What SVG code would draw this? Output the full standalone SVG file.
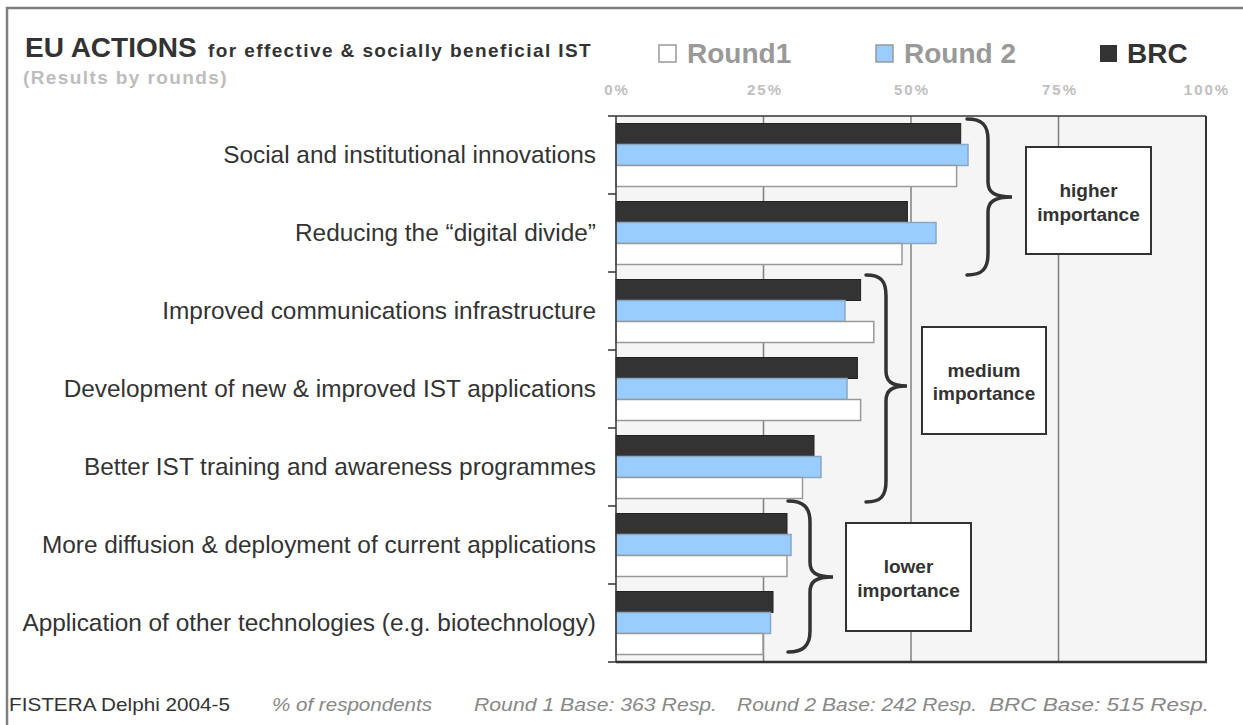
<svg xmlns="http://www.w3.org/2000/svg" width="1243" height="725" viewBox="0 0 1243 725">
<style>
text{font-family:"Liberation Sans",Arial,sans-serif}
.cat{font-size:24.4px;fill:#333;text-anchor:end}
.ax{font-size:15px;font-weight:bold;fill:#c0c0c0;text-anchor:middle;letter-spacing:2px}
.leg{font-size:28px;font-weight:bold;fill:#999}
.bk{fill:#333;stroke:#222;stroke-width:1}
.bl{fill:#99ccff;stroke:#8aa7c4;stroke-width:1.5}
.wh{fill:#fff;stroke:#999;stroke-width:1.5}
.grid{stroke:#808080;stroke-width:1.5}
.brace{fill:none;stroke:#333;stroke-width:3.5;stroke-linecap:round}
.box{fill:#fff;stroke:#333;stroke-width:2}
.bt{font-size:19px;font-weight:bold;fill:#333;text-anchor:middle}
.ft{font-size:19px;fill:#888;font-style:italic}
</style>
<rect x="7" y="8" width="1260" height="740" fill="#fff" stroke="#808080" stroke-width="2.5"/>
<g id="title">
<text x="25" y="57" font-size="28" font-weight="bold" fill="#333">EU ACTIONS</text>
<text x="208" y="57" font-size="19" font-weight="bold" fill="#333" letter-spacing="1.4">for effective &amp; socially beneficial  IST</text>
<text x="23" y="84" font-size="19" font-weight="bold" fill="#bdbdbd" letter-spacing="1.4">(Results by rounds)</text>
</g>
<g id="legend">
<rect x="659" y="45" width="17" height="17" fill="#fff" stroke="#999" stroke-width="1.5"/>
<text class="leg" x="687" y="63">Round1</text>
<rect x="876" y="45" width="17" height="17" fill="#99ccff" stroke="#999" stroke-width="1.5"/>
<text class="leg" x="904" y="63">Round 2</text>
<rect x="1100" y="45" width="17" height="17" fill="#333"/>
<text class="leg" x="1127" y="63" style="fill:#333">BRC</text>
</g>
<g id="axis-labels">
<text class="ax" x="617" y="95">0%</text>
<text class="ax" x="765" y="95">25%</text>
<text class="ax" x="912" y="95">50%</text>
<text class="ax" x="1060" y="95">75%</text>
<text class="ax" x="1207" y="95">100%</text>
</g>
<g id="plot">
<rect x="616" y="116" width="590" height="546" fill="#f5f5f5"/>
<line class="grid" x1="763.5" y1="116" x2="763.5" y2="662"/>
<line class="grid" x1="911" y1="116" x2="911" y2="662"/>
<line class="grid" x1="1058.5" y1="116" x2="1058.5" y2="662"/>
</g>
<g id="bars">
<rect class="bk" x="616" y="123.5" width="344.7" height="21"/>
<rect class="bl" x="616" y="144.5" width="352" height="21"/>
<rect class="wh" x="616" y="165.5" width="340.6" height="21"/>
<rect class="bk" x="616" y="201.5" width="291.4" height="21"/>
<rect class="bl" x="616" y="222.5" width="320" height="21"/>
<rect class="wh" x="616" y="243.5" width="286" height="21"/>
<rect class="bk" x="616" y="279.5" width="244.6" height="21"/>
<rect class="bl" x="616" y="300.5" width="229" height="21"/>
<rect class="wh" x="616" y="321.5" width="257.8" height="21"/>
<rect class="bk" x="616" y="357.5" width="241.4" height="21"/>
<rect class="bl" x="616" y="378.5" width="231" height="21"/>
<rect class="wh" x="616" y="399.5" width="244.6" height="21"/>
<rect class="bk" x="616" y="435.5" width="198" height="21"/>
<rect class="bl" x="616" y="456.5" width="205" height="21"/>
<rect class="wh" x="616" y="477.5" width="186.5" height="21"/>
<rect class="bk" x="616" y="513.5" width="171" height="21"/>
<rect class="bl" x="616" y="534.5" width="175" height="21"/>
<rect class="wh" x="616" y="555.5" width="171" height="21"/>
<rect class="bk" x="616" y="591.5" width="157" height="21"/>
<rect class="bl" x="616" y="612.5" width="154.5" height="21"/>
<rect class="wh" x="616" y="633.5" width="147" height="21"/>
</g>
<g id="frame" fill="none" stroke="#333">
<line x1="616" y1="116" x2="1206" y2="116" stroke-width="1.5"/>
<line x1="1206" y1="116" x2="1206" y2="662" stroke-width="2"/>
<line x1="616" y1="662" x2="1207" y2="662" stroke-width="2.5"/>
<line x1="616" y1="116" x2="616" y2="662" stroke-width="1.5"/>
<path d="M608,116H616M608,194H616M608,272H616M608,350H616M608,428H616M608,506H616M608,584H616M608,662H616" stroke-width="1.5"/>
</g>
<g id="categories">
<text class="cat" x="596" y="163">Social and institutional innovations</text>
<text class="cat" x="596" y="241">Reducing the “digital divide”</text>
<text class="cat" x="596" y="319">Improved communications infrastructure</text>
<text class="cat" x="596" y="397">Development of new &amp; improved IST applications</text>
<text class="cat" x="596" y="475">Better IST training and awareness programmes</text>
<text class="cat" x="596" y="553">More diffusion &amp; deployment of current applications</text>
<text class="cat" x="596" y="631">Application of other technologies (e.g. biotechnology)</text>
</g>
<g id="connectors">
<path class="brace" d="M967,119C982,119 988,125 988,140L988,182C988,192 994,197 1012,197C994,197 988,202 988,212L988,254C988,269 982,275 967,275"/>
<path class="brace" d="M866,275C881,275 886,281 886,296L886,371C886,381 891,386 907,386C891,386 886,391 886,401L886,481C886,496 881,502 866,502"/>
<path class="brace" d="M788,501C803,501 810,507 810,522L810,562C810,572 815,577 833,577C815,577 810,582 810,592L810,631C810,646 803,652 788,652"/>
</g>
<g id="higher">
<rect class="box" x="1026" y="147" width="125" height="107"/>
<text class="bt" x="1088.5" y="197">higher</text>
<text class="bt" x="1088.5" y="221">importance</text>
</g>
<g id="medium">
<rect class="box" x="922" y="327" width="124" height="107"/>
<text class="bt" x="984" y="377">medium</text>
<text class="bt" x="984" y="400">importance</text>
</g>
<g id="lower">
<rect class="box" x="846" y="523" width="125" height="108"/>
<text class="bt" x="908.5" y="573">lower</text>
<text class="bt" x="908.5" y="597">importance</text>
</g>
<g id="footer">
<text x="9" y="711" font-size="19" fill="#333" textLength="221" lengthAdjust="spacingAndGlyphs">FISTERA Delphi 2004-5</text>
<text class="ft" x="272" y="711" textLength="160" lengthAdjust="spacingAndGlyphs">% of respondents</text>
<text class="ft" x="474" y="711" textLength="243" lengthAdjust="spacingAndGlyphs">Round 1 Base: 363 Resp.</text>
<text class="ft" x="737" y="711" textLength="240" lengthAdjust="spacingAndGlyphs">Round 2 Base: 242 Resp.</text>
<text class="ft" x="989" y="711" textLength="220" lengthAdjust="spacingAndGlyphs">BRC Base: 515 Resp.</text>
</g>
</svg>
